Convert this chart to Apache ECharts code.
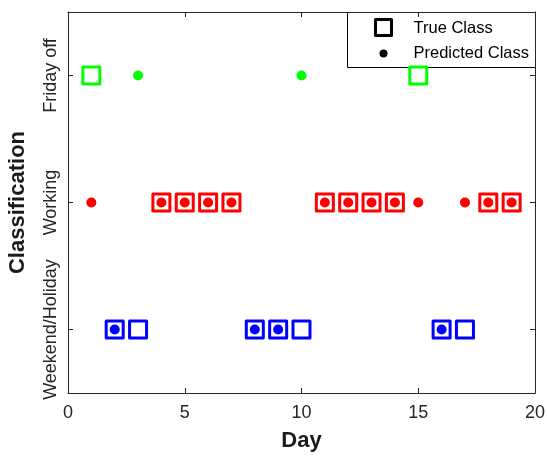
<!DOCTYPE html>
<html>
<head>
<meta charset="utf-8">
<script src="https://cdn.jsdelivr.net/npm/echarts@6/dist/echarts.min.js"></script>
<style>
  html, body { margin: 0; padding: 0; background: #fff; }
  #chart { width: 547px; height: 458px; }
</style>
</head>
<body>
<div id="chart"></div>
<script>
// Classes, bottom to top on the vertical axis
const classes = ['Weekend/Holiday', 'Working', 'Friday off'];
const classColors = { 'Weekend/Holiday': '#0000ff', 'Working': '#ff0000', 'Friday off': '#00ff00' };

const days = [1, 2, 3, 4, 5, 6, 7, 8, 9, 10, 11, 12, 13, 14, 15, 16, 17, 18, 19];
const trueClass = [
  'Friday off', 'Weekend/Holiday', 'Weekend/Holiday', 'Working', 'Working', 'Working', 'Working',
  'Weekend/Holiday', 'Weekend/Holiday', 'Weekend/Holiday', 'Working', 'Working', 'Working', 'Working',
  'Friday off', 'Weekend/Holiday', 'Weekend/Holiday', 'Working', 'Working'
];
const predictedClass = [
  'Working', 'Weekend/Holiday', 'Friday off', 'Working', 'Working', 'Working', 'Working',
  'Weekend/Holiday', 'Weekend/Holiday', 'Friday off', 'Working', 'Working', 'Working', 'Working',
  'Working', 'Weekend/Holiday', 'Working', 'Working', 'Working'
];
const xTicks = { min: 0, max: 20, step: 5 };

const axisColor = '#262626';
const font = 'Liberation Sans, Arial, Helvetica, sans-serif';

const trueData = days.map((d, i) => ({
  value: [d, trueClass[i]],
  itemStyle: { borderColor: classColors[trueClass[i]] }
}));
const predData = days.map((d, i) => ({
  value: [d, predictedClass[i]],
  itemStyle: { color: classColors[predictedClass[i]] }
}));

const chart = echarts.init(document.getElementById('chart'), null, { renderer: 'canvas' });

const tickStyle = { show: true, inside: true, length: 5, lineStyle: { color: axisColor, width: 1 } };
const lineStyle = { show: true, onZero: false, lineStyle: { color: axisColor, width: 1 } };

chart.setOption({
  animation: false,
  backgroundColor: '#fff',
  textStyle: { fontFamily: font },
  grid: { left: 68, right: 12, top: 12, bottom: 65, containLabel: false, outerBoundsMode: 'none' },
  xAxis: [
    {
      type: 'value', position: 'bottom',
      min: xTicks.min, max: xTicks.max, interval: xTicks.step,
      axisLine: lineStyle, axisTick: tickStyle, splitLine: { show: false },
      axisLabel: { color: axisColor, fontSize: 18, margin: 11, fontFamily: font },
      name: 'Day', nameLocation: 'middle', nameGap: 37,
      nameTextStyle: { color: '#1a1a1a', fontSize: 22, fontWeight: 'bold', fontFamily: font }
    },
    {
      type: 'value', position: 'top',
      min: xTicks.min, max: xTicks.max, interval: xTicks.step,
      axisLine: lineStyle, axisTick: tickStyle, splitLine: { show: false },
      axisLabel: { show: false }
    }
  ],
  yAxis: [
    {
      type: 'category', position: 'left', data: classes,
      axisLine: lineStyle,
      axisTick: Object.assign({ alignWithLabel: true, interval: 0 }, tickStyle),
      axisLabel: { color: axisColor, fontSize: 18, rotate: 90, margin: 8, interval: 0,
        hideOverlap: false, fontFamily: font },
      splitLine: { show: false },
      name: 'Classification', nameLocation: 'middle', nameGap: 39, nameRotate: 90,
      nameTextStyle: { color: '#1a1a1a', fontSize: 22, fontWeight: 'bold', fontFamily: font }
    },
    {
      type: 'category', position: 'right', data: classes,
      axisLine: lineStyle,
      axisTick: Object.assign({ alignWithLabel: true, interval: 0 }, tickStyle),
      axisLabel: { show: false }, splitLine: { show: false }
    }
  ],
  series: [
    {
      name: 'True Class', type: 'scatter', xAxisIndex: 0, yAxisIndex: 0,
      symbol: 'rect', symbolSize: 17,
      itemStyle: { color: 'rgba(0,0,0,0)', borderWidth: 3, borderJoin: 'round', opacity: 1 },
      emphasis: { disabled: true },
      data: trueData, z: 2
    },
    {
      name: 'Predicted Class', type: 'scatter', xAxisIndex: 0, yAxisIndex: 0,
      symbol: 'circle', symbolSize: 10,
      itemStyle: { opacity: 1 },
      emphasis: { disabled: true },
      data: predData, z: 3
    }
  ],
  graphic: [
    {
      type: 'group', left: 347, top: 12, z: 10,
      children: [
        { type: 'rect', shape: { x: 0, y: 0, width: 188, height: 55 },
          style: { fill: '#fff', stroke: '#000', lineWidth: 1 } },
        { type: 'rect', shape: { x: 28, y: 7, width: 16, height: 16 },
          style: { fill: 'none', stroke: '#000', lineWidth: 3, lineJoin: 'round' } },
        { type: 'circle', shape: { cx: 36, cy: 41, r: 4 }, style: { fill: '#000' } },
        { type: 'text', x: 66, y: 16,
          style: { text: 'True Class', fill: '#000', font: '16.5px ' + font, verticalAlign: 'middle' } },
        { type: 'text', x: 66, y: 41,
          style: { text: 'Predicted Class', fill: '#000', font: '16.5px ' + font, verticalAlign: 'middle' } }
      ]
    }
  ]
});
</script>
</body>
</html>
